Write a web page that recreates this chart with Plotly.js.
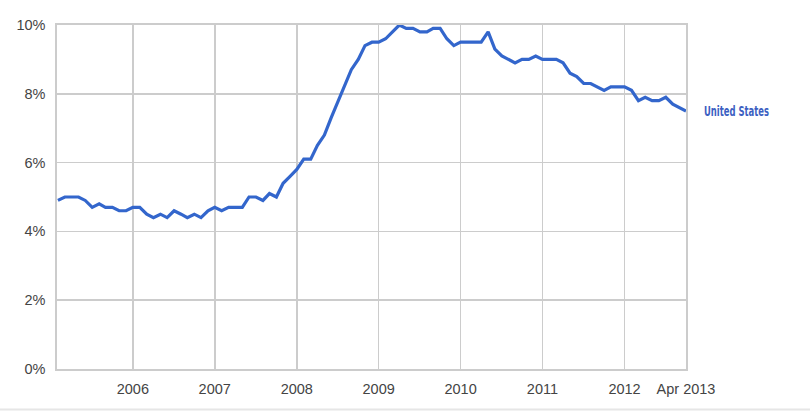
<!DOCTYPE html>
<html>
<head>
<meta charset="utf-8">
<script src="https://cdn.plot.ly/plotly-3.0.1.min.js"></script>
<style>html,body{margin:0;padding:0;background:#fff;}#chart{width:810px;height:411px;}</style>
</head>
<body>
<div id="chart"></div>
<script>
// Monthly unemployment rate, United States, Aug 2005 – Apr 2013 (%)
const startYear = 2005, startMonth = 8;
const rate2005 = [4.9, 5.0, 5.0, 5.0, 4.9];                       // Aug–Dec
const rate2006 = [4.7, 4.8, 4.7, 4.7, 4.6, 4.6, 4.7, 4.7, 4.5, 4.4, 4.5, 4.4];
const rate2007 = [4.6, 4.5, 4.4, 4.5, 4.4, 4.6, 4.7, 4.6, 4.7, 4.7, 4.7, 5.0];
const rate2008 = [5.0, 4.9, 5.1, 5.0, 5.4, 5.6, 5.8, 6.1, 6.1, 6.5, 6.8, 7.3];
const rate2009 = [7.8, 8.3, 8.7, 9.0, 9.4, 9.5, 9.5, 9.6, 9.8, 10.0, 9.9, 9.9];
const rate2010 = [9.8, 9.8, 9.9, 9.9, 9.6, 9.4, 9.5, 9.5, 9.5, 9.5, 9.8, 9.3];
const rate2011 = [9.1, 9.0, 8.9, 9.0, 9.0, 9.1, 9.0, 9.0, 9.0, 8.9, 8.6, 8.5];
const rate2012 = [8.3, 8.3, 8.2, 8.1, 8.2, 8.2, 8.2, 8.1, 7.8, 7.9, 7.8, 7.8];
const rate2013 = [7.9, 7.7, 7.6, 7.5];                             // Jan–Apr
const seriesName = "United States";

const tickDates = ["2006-07-01","2007-07-01","2008-07-01","2009-07-01","2010-07-01","2011-07-01","2012-07-01","2013-04-01"];
const tickLabels = ["2006","2007","2008","2009","2010","2011","2012","Apr 2013"];
const yTicks = [0, 2, 4, 6, 8, 10];

const values = [].concat(rate2005, rate2006, rate2007, rate2008, rate2009, rate2010, rate2011, rate2012, rate2013);
const dates = values.map((_, i) => {
  const m0 = startMonth - 1 + i;
  const y = startYear + Math.floor(m0 / 12);
  const m = (m0 % 12) + 1;
  return y + "-" + String(m).padStart(2, "0") + "-01";
});

const trace = {
  x: dates, y: values, type: "scatter", mode: "lines",
  line: {color: "#3366cc", width: 3.2},
  cliponaxis: true, hoverinfo: "x+y", name: seriesName
};

const gridC = "#cccccc";
const layout = {
  width: 810, height: 411,
  margin: {l: 57.3, r: 124, t: 25.3, b: 42.3, pad: 0},
  paper_bgcolor: "#ffffff", plot_bgcolor: "#ffffff",
  showlegend: false,
  font: {family: "Liberation Sans, Arial, sans-serif", size: 14.5, color: "#444444"},
  xaxis: {
    type: "date", range: ["2005-07-28", "2013-04-01"],
    tickmode: "array", tickvals: tickDates, ticktext: tickLabels,
    showgrid: true, gridcolor: gridC, gridwidth: 1.6,
    showline: true, linecolor: gridC, linewidth: 1.6, mirror: true,
    zeroline: false, ticks: "", ticklabelstandoff: 6,
    tickfont: {size: 14.5, color: "#444444"}, fixedrange: true
  },
  yaxis: {
    range: [0, 10], tickmode: "array", tickvals: yTicks,
    ticktext: yTicks.map(v => v + "%"),
    showgrid: true, gridcolor: gridC, gridwidth: 1.6,
    showline: true, linecolor: gridC, linewidth: 1.6, mirror: true,
    zeroline: false, ticks: "", ticklabelstandoff: 7,
    tickfont: {size: 14.5, color: "#444444"}, fixedrange: true
  },
  annotations: [{
    x: dates[dates.length - 1], y: values[values.length - 1],
    xref: "x", yref: "y", text: "<b>" + seriesName + "</b>",
    showarrow: false, xanchor: "left", yanchor: "middle", xshift: 16,
    font: {family: "DejaVu Sans Condensed, DejaVu Sans, sans-serif", size: 14, color: "#3c5fc2", stretch: "condensed"}
  }],
  shapes: [{
    type: "line", xref: "paper", yref: "paper",
    x0: -0.1, x1: 1.2, y0: -0.1175, y1: -0.1175,
    line: {color: "#e6e6e6", width: 2}
  }]
};

Plotly.newPlot("chart", [trace], layout, {displayModeBar: false, staticPlot: true}).then(gd => {
  // narrow the series label horizontally to mimic the condensed label face
  const t = gd.querySelector(".annotation-text");
  if (t) {
    const bb = t.getBBox();
    const target = 65;
    if (bb.width > target) {
      const sx = target / bb.width;
      t.setAttribute("transform", "translate(" + bb.x + ",0) scale(" + sx + ",1) translate(" + (-bb.x) + ",0)");
    }
  }
});
</script>
</body>
</html>
